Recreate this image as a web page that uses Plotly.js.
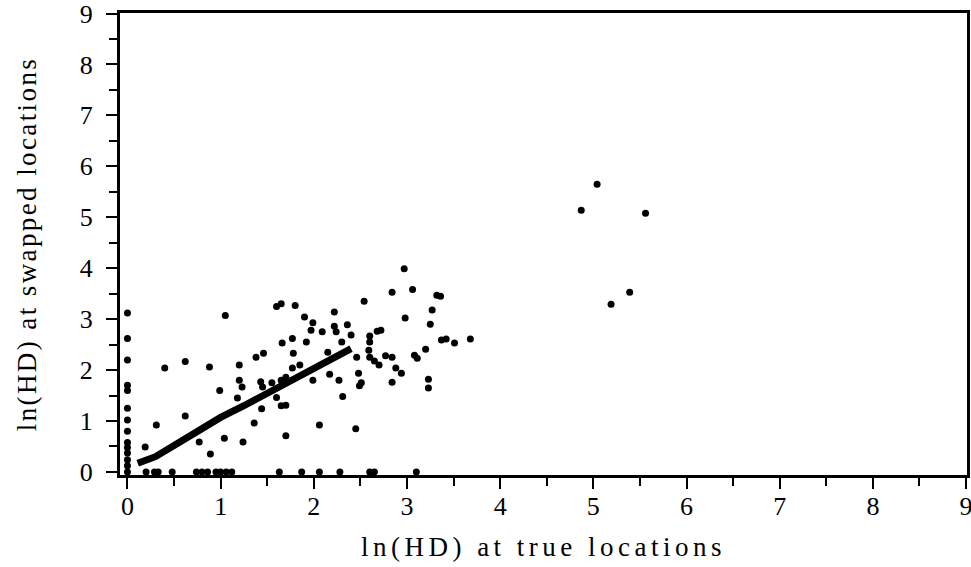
<!DOCTYPE html>
<html>
<head>
<meta charset="utf-8">
<script src="https://cdn.plot.ly/plotly-3.0.1.min.js"></script>
<style>
html,body{margin:0;padding:0;background:#fff;}
#chart{width:971px;height:567px;}
.xtick text, .ytick text, .xtitle, .ytitle{font-family:"Liberation Serif", "Times New Roman", serif !important;}
.xtitle{letter-spacing:4.5px;}
.ytitle{letter-spacing:2.4px;}
</style>
</head>
<body>
<div id="chart"></div>
<script>
// Scatter points: ln(HD) at true locations (x) vs ln(HD) at swapped locations (y)
var trueHD = [
  0,0,0,0,0,0,0,0,0,0,0,0,0,0,
  0.2,0.29,0.33,0.48,0.74,0.8,0.86,0.95,1.0,1.06,1.12,1.63,1.87,2.06,2.28,2.6,2.65,3.1,
  0.19,0.31,0.4,0.62,0.62,0.77,0.88,0.99,1.04,0.89,1.05,1.2,1.2,1.23,1.18,1.24,1.36,1.38,1.46,1.43,1.45,1.44,
  1.6,1.65,1.8,1.66,1.77,1.78,1.6,1.65,1.7,1.77,1.65,1.7,1.7,1.9,1.99,1.97,2.09,2.22,2.22,2.24,2.36,2.4,1.92,2.46,
  1.99,2.17,2.27,2.31,2.48,2.51,2.49,2.06,2.45,2.54,2.6,2.68,2.72,2.6,2.59,2.6,2.65,2.7,2.77,2.84,2.88,2.94,2.84,
  2.97,2.84,3.06,3.32,3.36,3.27,2.98,3.25,3.08,3.11,3.2,3.23,3.23,3.37,3.42,3.51,3.68,
  5.04,4.87,5.56,5.39,5.19,
  2.3,2.15,1.85,1.55
];
var swappedHD = [
  3.12,2.62,2.2,1.7,1.6,1.25,1.02,0.8,0.58,0.48,0.37,0.24,0.12,0,
  0,0,0,0,0,0,0,0,0,0,0,0,0,0,0,0,0,0,
  0.49,0.92,2.04,2.17,1.1,0.59,2.06,1.6,0.66,0.35,3.07,2.1,1.8,1.67,1.45,0.59,0.96,2.25,2.33,1.77,1.67,1.24,
  3.25,3.3,3.27,2.53,2.62,2.33,1.46,1.8,1.86,2.04,1.3,1.31,0.71,3.04,2.93,2.78,2.75,3.14,2.86,2.75,2.89,2.69,2.55,2.25,
  1.8,1.92,1.8,1.48,1.94,1.75,1.69,0.92,0.85,3.35,2.67,2.76,2.78,2.55,2.39,2.25,2.18,2.1,2.28,2.25,2.04,1.94,1.76,
  3.99,3.53,3.58,3.47,3.45,3.18,3.02,2.9,2.29,2.23,2.41,1.82,1.65,2.59,2.61,2.53,2.61,
  5.65,5.14,5.08,3.53,3.29,
  2.55,2.35,2.1,1.75
];
// Dense band of overlapping points along the diagonal
var bandX = [0.11,0.3,0.5,0.75,1.0,1.25,1.5,1.75,2.0,2.2,2.4];
var bandY = [0.17,0.3,0.52,0.8,1.07,1.3,1.55,1.78,2.05,2.22,2.42];
var tickVals = [0,1,2,3,4,5,6,7,8,9];
var tickText = ['0','1','2','3','4','5','6','7','8','9'];

var serifFamily = 'Liberation Serif';

var traces = [
  {x: bandX, y: bandY, type: 'scatter', mode: 'lines', line: {color: '#000', width: 7}, hoverinfo: 'skip', showlegend: false},
  {x: trueHD, y: swappedHD, type: 'scatter', mode: 'markers', marker: {color: '#000', size: 7}, showlegend: false}
];

function axis(range, title, standoff, labelStandoff) {
  return {
    range: range,
    tickmode: 'array', tickvals: tickVals, ticktext: tickText,
    ticks: 'outside', ticklen: 11, tickwidth: 2, tickcolor: '#000',
    minor: {dtick: 0.5, tick0: 0, ticks: 'outside', ticklen: 8, tickwidth: 2, tickcolor: '#000'},
    showline: true, linewidth: 3, linecolor: '#000', mirror: true,
    showgrid: false, zeroline: false,
    ticklabelstandoff: labelStandoff,
    ticklabeloverflow: 'allow',
    tickfont: {family: serifFamily, size: 26, color: '#000'},
    title: {text: title, font: {family: serifFamily, size: 27, color: '#000'}, standoff: standoff},
    fixedrange: true
  };
}

var layout = {
  width: 971, height: 567,
  font: {family: serifFamily, color: '#000'},
  margin: {l: 120, r: 4, t: 13, b: 92},
  paper_bgcolor: '#fff', plot_bgcolor: '#fff',
  xaxis: axis([-0.08, 9.01], 'ln(HD) at true locations', 17, -5),
  yaxis: axis([-0.06, 9.01], 'ln(HD) at swapped locations', 36, 8),
  showlegend: false
};

Plotly.newPlot('chart', traces, layout, {displayModeBar: false, staticPlot: true});
</script>
</body>
</html>
